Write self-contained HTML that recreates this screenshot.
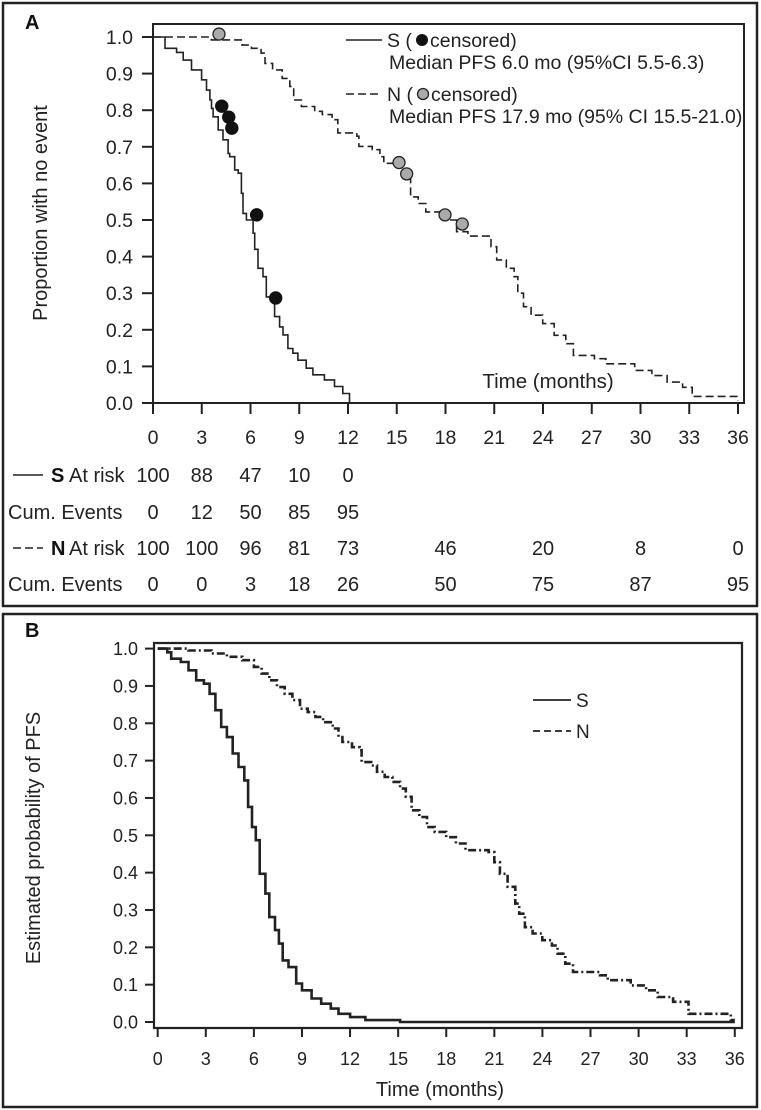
<!DOCTYPE html>
<html><head><meta charset="utf-8"><style>
html,body{margin:0;padding:0;background:#fff;}
svg{display:block;font-family:"Liberation Sans",Arial,sans-serif;}
</style></head><body>
<svg id="root" width="761" height="1110" viewBox="0 0 761 1110" xmlns="http://www.w3.org/2000/svg">
<rect x="3" y="3" width="754" height="603" fill="none" stroke="#222" stroke-width="2.5"/>
<rect x="3" y="614" width="754" height="493" fill="none" stroke="#222" stroke-width="2.5"/>
<text x="25" y="29" font-size="20" font-weight="bold" fill="#111">A</text>
<text x="25" y="637" font-size="20" font-weight="bold" fill="#111">B</text>
<g id="gA"></g>
<g id="gT"></g>
<g id="gB"></g>
</svg>
<script>
// Panel A data
const aTicksX = [0,3,6,9,12,15,18,21,24,27,30,33,36];
const aTicksY = ["0.0","0.1","0.2","0.3","0.4","0.5","0.6","0.7","0.8","0.9","1.0"];
const aS_t = [0,0.74,1.45,1.86,2.37,2.99,3.29,3.5,3.6,3.7,4.01,4.31,4.62,4.72,5.03,5.24,5.44,5.54,5.75,6.16,6.26,6.46,6.77,6.97,7.38,7.48,7.79,8.0,8.3,8.61,8.92,9.43,9.84,10.55,11.17,11.68,12.09];
const aS_p = [1,.969,.958,.937,.91,.883,.855,.828,.805,.782,.746,.719,.682,.673,.637,.628,.573,.518,.5,.464,.42,.368,.345,.29,.281,.236,.208,.186,.149,.136,.117,.095,.077,.063,.045,.026,0];
const aN_t = [0,3.59,5.48,6.06,6.65,6.89,7.36,7.95,8.42,8.66,9.13,9.95,10.42,11.02,11.37,12.55,12.67,13.49,13.96,14.2,14.9,15.5,15.85,16.32,16.79,17.73,18.21,18.68,19.38,20.8,21.15,21.74,22.22,22.45,22.8,23.27,23.98,24.69,25.4,25.87,27.16,27.87,29.64,30.7,31.64,32.59,33.18,36.0];
const aN_p = [1,.992,.978,.969,.956,.928,.91,.887,.865,.828,.81,.797,.788,.774,.738,.729,.701,.692,.673,.655,.646,.614,.563,.545,.522,.509,.5,.468,.456,.427,.391,.368,.345,.3,.263,.24,.217,.185,.162,.13,.121,.107,.089,.075,.057,.043,.018,.007];
const aScens_t = [4.23,4.66,4.85,6.38,7.55];
const aScens_p = [.811,.781,.751,.514,.287];
const aNcens_t = [4.06,15.14,15.61,17.97,19.03];
const aNcens_p = [1.008,.657,.626,.514,.489];
// Risk table
const riskTimes = [0,3,6,9,12,18,24,30,36];
const sAtRisk = [100,88,47,10,0,null,null,null,null];
const sCumEv = [0,12,50,85,95,null,null,null,null];
const nAtRisk = [100,100,96,81,73,46,20,8,0];
const nCumEv = [0,0,3,18,26,50,75,87,95];
// Panel B data
const bTicksX = [0,3,6,9,12,15,18,21,24,27,30,33,36];
const bTicksY = ["0.0","0.1","0.2","0.3","0.4","0.5","0.6","0.7","0.8","0.9","1.0"];
const bS_t = [0,0.6,0.84,1.44,1.92,2.4,2.88,3.24,3.6,3.96,4.32,4.68,5.04,5.4,5.64,5.88,6.12,6.36,6.72,6.96,7.32,7.56,7.8,8.16,8.64,9.0,9.6,10.2,10.8,11.28,12.0,12.96,15.12];
const bS_p = [1,.99,.973,.964,.942,.915,.906,.879,.835,.79,.763,.719,.683,.647,.576,.522,.487,.397,.344,.281,.246,.21,.165,.147,.103,.085,.063,.049,.036,.022,.013,.005,0];
const bN_t = [0,1.92,3.36,4.32,5.28,6.0,6.48,6.96,7.44,7.92,8.4,8.88,9.36,9.84,10.32,10.92,11.28,11.52,12.12,12.6,12.72,13.32,13.68,14.16,14.64,15.12,15.48,15.84,16.32,16.8,17.28,18.0,18.6,19.2,20.64,21.0,21.35,21.83,22.31,22.55,22.91,23.39,23.99,24.59,24.95,25.43,25.91,27.59,28.07,29.51,30.47,31.19,32.15,33.11,35.75];
const bN_p = [1,.995,.987,.978,.969,.951,.933,.915,.897,.879,.862,.839,.83,.817,.803,.786,.763,.75,.736,.728,.696,.687,.67,.656,.643,.625,.603,.567,.549,.522,.509,.495,.478,.46,.455,.428,.397,.362,.317,.29,.254,.237,.219,.205,.183,.156,.134,.125,.112,.098,.085,.067,.054,.022,.005];

const NS="http://www.w3.org/2000/svg";
function mk(parent,tag,attrs,text){const e=document.createElementNS(NS,tag);for(const k in attrs)e.setAttribute(k,attrs[k]);if(text!==undefined)e.textContent=text;parent.appendChild(e);return e;}
function stepPath(ts,ps,xf,yf,tEnd){let d="M"+xf(ts[0]).toFixed(1)+","+yf(ps[0]).toFixed(1);for(let i=1;i<ts.length;i++){d+="H"+xf(ts[i]).toFixed(1)+"V"+yf(ps[i]).toFixed(1);}if(tEnd!==undefined)d+="H"+xf(tEnd).toFixed(1);return d;}

// ---------- Panel A ----------
const gA=document.getElementById('gA');
const ax=t=>153+t*16.25, ay=p=>403-p*366;
let e;
e=mk(gA,'path',{d:"M153,24H744V403H153Z",fill:"none",stroke:"#222","stroke-width":"2"});


aTicksY.forEach((lab,i)=>{const y=ay(i/10);
 e=mk(gA,'line',{x1:142,x2:153,y1:y,y2:y,stroke:"#222","stroke-width":"2"});
 
 
 e=mk(gA,'text',{x:133,y:y+7,"font-size":"19.5","text-anchor":"end",fill:"#222"},lab);
 
 
});
aTicksX.forEach(t=>{const x=ax(t);
 e=mk(gA,'line',{x1:x,x2:x,y1:403,y2:414,stroke:"#222","stroke-width":"2"});
 
 
 e=mk(gA,'text',{x:x,y:444,"font-size":"19.5","text-anchor":"middle",fill:"#222"},String(t));
 
 
});
e=mk(gA,'text',{x:0,y:0,"font-size":"20","text-anchor":"middle",fill:"#222",transform:"translate(47,213) rotate(-90)"},"Proportion with no event");


e=mk(gA,'text',{x:548,y:388,"font-size":"20.5","text-anchor":"middle",fill:"#222"},"Time (months)");


e=mk(gA,'path',{d:stepPath(aN_t,aN_p,ax,ay),fill:"none",stroke:"#222","stroke-width":"1.6","stroke-dasharray":"8,4"});


e=mk(gA,'path',{d:stepPath(aS_t,aS_p,ax,ay),fill:"none",stroke:"#222","stroke-width":"1.6"});


aScens_t.forEach((t,i)=>{
 e=mk(gA,'circle',{cx:ax(t),cy:ay(aScens_p[i]),r:6.2,fill:"#111",stroke:"#111","stroke-width":"1"});
 
 
});
aNcens_t.forEach((t,i)=>{
 e=mk(gA,'circle',{cx:ax(t),cy:ay(aNcens_p[i]),r:6,fill:"#aaa",stroke:"#222","stroke-width":"1.3"});
 
 
});
// legend A
e=mk(gA,'line',{x1:346,x2:382,y1:40,y2:40,stroke:"#222","stroke-width":"1.6"});


e=mk(gA,'text',{x:387,y:47,"font-size":"19.5",fill:"#222"},"S (");


e=mk(gA,'circle',{cx:422,cy:40,r:6,fill:"#111"});


e=mk(gA,'text',{x:430,y:47,"font-size":"19.5",fill:"#222"},"censored)");


e=mk(gA,'text',{x:389,y:69,"font-size":"19.5",fill:"#222"},"Median PFS 6.0 mo (95%CI 5.5-6.3)");


e=mk(gA,'line',{x1:346,x2:382,y1:94,y2:94,stroke:"#222","stroke-width":"1.6","stroke-dasharray":"8,4"});


e=mk(gA,'text',{x:387,y:101,"font-size":"19.5",fill:"#222"},"N (");


e=mk(gA,'circle',{cx:423,cy:94,r:5.5,fill:"#aaa",stroke:"#222","stroke-width":"1.3"});


e=mk(gA,'text',{x:431,y:101,"font-size":"19.5",fill:"#222"},"censored)");


e=mk(gA,'text',{x:389,y:123,"font-size":"19.5",fill:"#222"},"Median PFS 17.9 mo (95% CI 15.5-21.0)");



// ---------- Risk table ----------
const gT=document.getElementById('gT');
const rowY=[482,519,555,591];
e=mk(gT,'line',{x1:13,x2:43,y1:475,y2:475,stroke:"#222","stroke-width":"1.6"});


e=mk(gT,'line',{x1:13,x2:43,y1:548,y2:548,stroke:"#222","stroke-width":"1.6","stroke-dasharray":"8,4"});


[["S",0],["N",2]].forEach(([g,r])=>{
 e=mk(gT,'text',{x:51,y:rowY[r],"font-size":"20","font-weight":"bold",fill:"#111"},g);
 
 
 e=mk(gT,'text',{x:69,y:rowY[r],"font-size":"20",fill:"#222"},"At risk");
 
 
});
[1,3].forEach(r=>{
 e=mk(gT,'text',{x:8,y:rowY[r],"font-size":"20",fill:"#222"},"Cum. Events");
 
 
});
[sAtRisk,sCumEv,nAtRisk,nCumEv].forEach((arr,r)=>{
 arr.forEach((v,i)=>{ if(v===null) return;
  e=mk(gT,'text',{x:ax(riskTimes[i]),y:rowY[r],"font-size":"20","text-anchor":"middle",fill:"#222"},String(v));
  
  
 });
});

// ---------- Panel B ----------
const gB=document.getElementById('gB');
const bx=t=>157.7+t*16.03, by=p=>1022-p*373.4;
e=mk(gB,'path',{d:"M154,643H742V1028H154Z",fill:"none",stroke:"#222","stroke-width":"2.2"});


bTicksY.forEach((lab,i)=>{const y=by(i/10);
 e=mk(gB,'line',{x1:145,x2:154,y1:y,y2:y,stroke:"#222","stroke-width":"2"});
 
 
 e=mk(gB,'text',{x:138,y:y+6.5,"font-size":"18","text-anchor":"end",fill:"#222"},lab);
 
 
});
bTicksX.forEach(t=>{const x=bx(t);
 e=mk(gB,'line',{x1:x,x2:x,y1:1028,y2:1037,stroke:"#222","stroke-width":"2"});
 
 
 e=mk(gB,'text',{x:x,y:1065,"font-size":"18","text-anchor":"middle",fill:"#222"},String(t));
 
 
});
e=mk(gB,'text',{x:0,y:0,"font-size":"20","text-anchor":"middle",fill:"#222",transform:"translate(40,838) rotate(-90)"},"Estimated probability of PFS");


e=mk(gB,'text',{x:440,y:1096,"font-size":"20","text-anchor":"middle",fill:"#222"},"Time (months)");


e=mk(gB,'path',{d:stepPath(bN_t,bN_p,bx,by,36),fill:"none",stroke:"#222","stroke-width":"2.6","stroke-dasharray":"8,3,2,3"});


e=mk(gB,'path',{d:stepPath(bS_t,bS_p,bx,by,36),fill:"none",stroke:"#222","stroke-width":"2.6"});


e=mk(gB,'line',{x1:533,x2:571,y1:700,y2:700,stroke:"#222","stroke-width":"1.8"});


e=mk(gB,'text',{x:576,y:707,"font-size":"19",fill:"#222"},"S");


e=mk(gB,'line',{x1:533,x2:571,y1:731,y2:731,stroke:"#222","stroke-width":"1.8","stroke-dasharray":"7,4"});


e=mk(gB,'text',{x:576,y:738,"font-size":"19",fill:"#222"},"N");


</script>
</body></html>
